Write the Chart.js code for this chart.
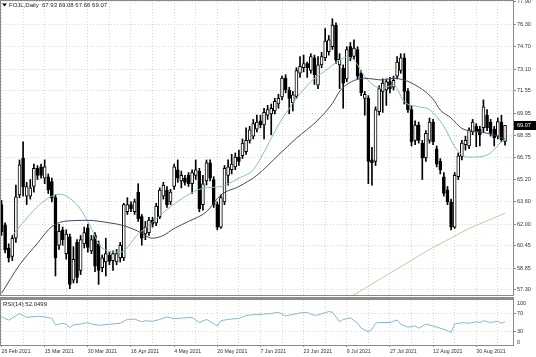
<!DOCTYPE html>
<html><head><meta charset="utf-8">
<script src="https://cdn.jsdelivr.net/npm/chart.js@4.4.0/dist/chart.umd.min.js"></script>
<style>
html,body{margin:0;padding:0;background:#fff;width:536px;height:357px;overflow:hidden}
#main{position:absolute;left:0;top:0}
#rsi{position:absolute;left:0;top:300px}
#sep{position:absolute;left:0;top:297px;width:514px;height:3px;background:#8c8c8c}
</style></head><body>
<canvas id="main" width="536" height="297"></canvas>
<div id="sep"></div>
<canvas id="rsi" width="536" height="57"></canvas>
<script>
const symbol = 'FOJL,Daily';
const opens = [63.4,61.95,60.3,59.7,61.0,64.1,66.72,64.0,64.0,64.7, 66.0,66.1,65.3,65.4,65.05,63.9,60.5,61.6,59.9,61.1, 58.0,60.7,58.7,60.6,61.75,60.1,61.2,60.6,58.9,59.3, 59.8,59.4,59.3,59.6,59.6,62.9,63.4,62.9,64.3,62.55, 61.3,61.4,62.3,62.1,62.55,64.0,64.45,63.6,64.7,65.9, 65.1,65.3,65.5,64.9,65.5,65.8,63.4,65.1,66.4,65.2, 63.4,61.8,63.6,65.5,65.9,66.1,66.8,66.9,67.2,68.0, 68.3,68.8,69.4,69.1,69.8,69.9,70.1,70.6,71.1,72.45, 71.6,70.7,71.15,72.8,73.2,73.5,73.0,73.9,71.95,73.4, 73.9,74.35,74.7,76.25,73.4,73.15,72.4,74.7,74.0,74.5, 72.8,71.0,71.0,66.6,66.5,70.05,71.5,71.6,72.2,71.8, 72.6,73.0,73.9,71.5,70.2,68.0,69.1,67.8,66.75,68.0, 69.3,67.4,66.5,65.4,64.45,63.6,61.8,65.4,66.85,67.7, 67.6,68.6,69.0,68.8,68.9,69.8,69.3,68.8,68.3,69.3, 67.93];
const highs = [63.7,62.1,60.6,61.2,64.8,66.6,67.9,65.0,65.2,66.3, 66.2,66.3,66.6,65.6,65.3,64.1,62.0,61.8,61.6,61.3, 60.4,60.9,61.2,61.8,62.0,61.2,61.4,60.8,59.8,61.0, 60.0,60.1,60.2,60.7,63.5,63.9,63.6,63.8,64.9,62.7, 62.2,62.5,62.5,63.5,64.6,65.0,64.7,64.5,66.3,66.6, 65.8,65.5,65.7,65.9,66.6,66.0,65.5,66.6,66.6,65.4, 63.6,64.1,66.2,66.6,67.0,67.1,67.3,68.1,68.9,69.0, 69.5,69.8,69.8,70.3,70.5,70.6,71.0,71.3,72.6,72.7, 71.8,71.5,73.2,74.0,74.1,73.6,74.2,74.1,74.0,74.3, 76.0,75.5,76.7,76.4,74.2,73.4,74.7,75.0,75.2,74.7, 73.0,71.5,71.2,67.5,70.4,71.9,72.4,72.4,72.5,72.6, 74.0,74.2,74.2,71.7,70.5,69.4,69.3,68.0,68.7,69.6, 69.5,67.6,66.7,65.7,64.7,63.8,65.7,67.1,68.0,68.3, 68.9,69.5,69.2,69.0,70.9,70.2,69.5,69.0,69.6,69.8, 69.08];
const lows = [61.2,59.95,59.3,59.4,60.7,63.9,64.0,63.4,63.8,64.3, 65.2,65.3,64.9,64.2,63.6,58.3,60.2,60.5,59.5,57.4, 57.8,57.8,58.4,60.3,60.0,59.9,58.6,57.7,58.6,58.3, 59.1,58.7,59.1,59.3,59.4,62.7,62.9,62.7,62.2,60.5, 60.9,61.2,61.8,61.9,62.4,63.8,63.2,63.4,64.5,65.0, 64.6,64.8,64.7,64.2,65.2,62.9,63.0,64.8,65.1,63.2, 61.6,61.7,63.4,64.8,65.6,65.9,66.2,66.7,67.0,67.8, 68.1,68.6,68.9,68.1,69.5,68.4,69.9,70.3,70.9,71.4, 69.9,70.1,71.0,72.5,72.9,72.5,72.8,72.0,71.7,73.2, 73.7,74.1,74.5,73.5,71.7,70.3,72.2,73.7,73.8,72.4, 71.2,69.8,64.9,64.8,66.2,69.8,70.0,70.5,71.4,71.6, 72.4,72.8,70.6,70.0,67.6,67.7,67.8,65.2,66.5,67.8, 67.7,66.1,65.6,64.0,63.4,61.6,61.7,65.2,66.6,67.3, 67.4,68.4,67.55,67.6,68.6,68.7,68.3,67.6,68.1,67.9, 67.66];
const closes = [61.45,60.16,59.6,61.0,63.97,66.25,64.69,64.7,64.6,66.0, 65.5,65.5,66.1,64.45,63.86,59.6,61.5,60.9,61.3,57.7, 59.5,58.2,60.9,61.4,60.35,60.9,59.0,58.7,59.6,59.9, 59.35,59.9,59.9,60.5,63.4,63.4,63.1,63.6,62.4,61.0, 61.8,62.3,62.0,63.3,64.45,64.8,63.4,64.3,66.1,65.3, 65.5,65.0,64.9,65.7,65.9,63.1,64.9,66.4,65.3,63.4, 61.8,63.9,66.0,66.1,66.3,66.8,66.5,67.8,68.0,68.75, 69.2,69.3,69.1,70.0,70.2,70.3,70.8,71.0,72.45,71.6, 71.0,71.25,73.0,73.3,73.5,73.2,74.0,72.7,73.4,74.0, 75.1,75.2,76.25,73.75,73.8,72.1,74.5,73.9,74.6,72.6, 71.4,71.3,66.5,66.4,70.2,71.7,72.1,72.2,71.7,72.3, 73.6,73.9,71.5,70.2,67.9,69.1,68.0,66.75,68.5,69.3, 67.9,66.3,65.9,64.2,63.6,61.8,65.5,66.9,67.8,68.0, 68.75,69.3,68.6,68.4,70.4,68.9,68.5,68.2,69.35,68.05, 69.07];

const priceTicks = [77.90,76.30,74.70,73.10,71.55,69.95,68.35,66.75,65.20,63.60,62.00,60.45,58.85,57.30];
const dateLabels = ['26 Feb 2021','15 Mar 2021','30 Mar 2021','16 Apr 2021','4 May 2021','20 May 2021','7 Jun 2021','23 Jun 2021','9 Jul 2021','27 Jul 2021','12 Aug 2021','30 Aug 2021'];

const fastMaBars = [3,9,12,16,21,24,28,33,38,42,47,56,61,66,70,72,77,82,86,91,94,96,98,101,104,106,109,112,116,119,123,126,128,130,133,136,139,140];
const fastMaValues = [61.2,63.0,63.7,64.15,63.4,62.2,60.3,60.0,61.3,62.15,63.26,64.57,64.7,65.3,65.9,66.7,69.1,71.0,72.2,73.16,73.75,73.95,73.75,72.56,71.85,71.73,71.96,70.77,70.4,70.2,69.0,67.55,66.96,66.8,66.83,67.1,67.9,68.0];
const slowMaBars = [0,5,10,13,15,18,24,30,34,38,42,45,48,52,57,61,66,71,77,82,88,92,94,96,101,106,109,114,120,122,125,128,133,137,140];
const slowMaValues = [57.06,59.09,60.64,61.6,62.0,62.23,62.28,62.1,61.9,61.5,61.0,61.2,61.7,62.2,62.9,64.1,64.7,65.5,66.95,68.15,69.46,70.65,71.5,72.0,72.44,72.32,72.44,72.1,70.95,70.17,69.6,68.86,68.6,68.39,68.08];
const longMaBars = [97,119,130,140];
const longMaValues = [56.8,60.2,61.7,62.79];

const rsiBars = [0,2,5,7,10,13,14,15,17,18,19,20,22,24,25,27,30,33,35,37,39,40,42,44,46,48,50,53,55,57,60,61,63,66,68,71,75,77,79,81,83,85,87,88,91,92,94,95,96,97,99,100,102,103,104,105,108,110,111,113,115,116,118,120,122,124,125,126,128,130,132,133,134,136,138,139,140];
const rsiValues = [62.6,55.4,70,61.3,64.1,61.3,59.1,44.6,48.3,46.1,38.7,44.6,46.7,49.6,46.7,43.9,46.1,48.3,57,57.6,51.7,53.9,52.6,57,62.6,58.3,59.8,61.3,49.6,57,42.4,53.9,57,59.1,65.7,67.8,70,72.8,64.8,67.8,71.3,72.2,65.7,67,74.3,72.8,51.7,57,58.3,60.4,48.3,37.4,29.3,35.2,48.3,50,50,55.4,46.1,39.6,42.4,37.4,46.1,42.4,37.4,32.2,27.8,46.7,49.6,48.3,51.7,50,53.9,50,52.6,48.3,52.05];
const rsiLast = 52.0499;
const rsiLevels = [30, 70];
const rsiTickLabels = [100, 70, 30, 0];

const X_MIN = -0.42, X_MAX = 142.22;
const GRID = '#d6d6d6', AXIS = '#8a8a8a', TXT = '#333';
const FONT = 'Liberation Sans';

function xScale(showLabels) {
  return {
    type: 'linear', min: X_MIN, max: X_MAX, offset: false,
    afterBuildTicks: s => { const t = []; for (let v = 0; v <= X_MAX; v += 6) t.push({value: v}); s.ticks = t; },
    grid: { offset: false, color: GRID, lineWidth: 1, drawTicks: showLabels, tickLength: 2,
            tickColor: c => (c.tick && c.tick.value % 12 === 0) ? AXIS : 'rgba(0,0,0,0)' },
    border: { display: true, color: AXIS, dash: [1, 2] },
    ticks: { display: showLabels, autoSkip: false, maxRotation: 0, minRotation: 0, align: 'start', padding: 1,
             color: TXT, font: { family: FONT, size: 5.2 },
             callback: v => (v % 12 === 0 && dateLabels[v / 12]) ? dateLabels[v / 12] : '' },
    afterFit: s => { s.height = showLabels ? 12 : 0; s.paddingLeft = 0; s.paddingRight = 0; }
  };
}

const frame = (chart) => {
  const a = chart.chartArea, ctx = chart.ctx;
  ctx.save(); ctx.strokeStyle = AXIS; ctx.lineWidth = 1;
  ctx.beginPath(); ctx.moveTo(0.5, a.top); ctx.lineTo(0.5, a.bottom); ctx.stroke();
  ctx.restore();
};

const mainDecor = {
  id: 'mainDecor',
  afterDraw(chart) {
    frame(chart);
    const ctx = chart.ctx, ys = chart.scales.y, last = closes.length - 1;
    ctx.save();
    ctx.strokeStyle = AXIS; ctx.beginPath(); ctx.moveTo(0, 0.5); ctx.lineTo(chart.chartArea.right, 0.5); ctx.stroke();
    ctx.fillStyle = '#000';
    ctx.beginPath(); ctx.moveTo(2, 3.5); ctx.lineTo(7, 3.5); ctx.lineTo(4.5, 6.5); ctx.closePath(); ctx.fill();
    ctx.font = '6px "' + FONT + '"'; ctx.textBaseline = 'middle'; ctx.fillStyle = '#222'; ctx.textAlign = 'left';
    ctx.fillText(symbol + '  ' + [opens[last], highs[last], lows[last], closes[last]].map(v => v.toFixed(2)).join(' '), 9, 5.5);
    const py = ys.getPixelForValue(closes[last]);
    ctx.fillStyle = '#000'; ctx.fillRect(514, Math.round(py) - 4, 22, 9);
    ctx.fillStyle = '#fff'; ctx.font = '5.5px "' + FONT + '"';
    ctx.fillText(closes[last].toFixed(2), 517, Math.round(py) + 0.5);
    ctx.restore();
  }
};

const rsiDecor = {
  id: 'rsiDecor',
  afterDraw(chart) {
    frame(chart);
    const ctx = chart.ctx, ys = chart.scales.y, a = chart.chartArea;
    ctx.save();
    ctx.font = '6px "' + FONT + '"'; ctx.fillStyle = '#222'; ctx.textBaseline = 'middle'; ctx.textAlign = 'left';
    ctx.fillText('RSI(14) ' + rsiLast.toFixed(4), 3, 4);
    ctx.font = '5.5px "' + FONT + '"'; ctx.fillStyle = TXT;
    rsiTickLabels.forEach(v => {
      let y = ys.getPixelForValue(v);
      y = Math.min(Math.max(y, a.top + 3), a.bottom - 2.5);
      ctx.fillText(String(v), 517, y);
    });
    ctx.restore();
  }
};

const common = {
  responsive: false, maintainAspectRatio: false, animation: false, events: [],
  plugins: { legend: { display: false }, tooltip: { enabled: false } }
};

new Chart(document.getElementById('main'), {
  type: 'bar',
  data: {
    datasets: [
      { type: 'line', data: longMaBars.map((b, i) => ({x: b, y: longMaValues[i]})), borderColor: '#d6c29e', borderWidth: 1, pointRadius: 0, tension: 0, order: 1 },
      { type: 'line', data: slowMaBars.map((b, i) => ({x: b, y: slowMaValues[i]})), borderColor: '#45466b', borderWidth: 1, pointRadius: 0, cubicInterpolationMode: 'monotone', order: 1 },
      { type: 'line', data: fastMaBars.map((b, i) => ({x: b, y: fastMaValues[i]})), borderColor: '#82c3b0', borderWidth: 1, pointRadius: 0, cubicInterpolationMode: 'monotone', order: 1 },
      { type: 'bar', data: opens.map((o, i) => ({x: i, y: [o, closes[i]]})),
        backgroundColor: opens.map((o, i) => closes[i] >= o ? '#ffffff' : '#000000'),
        borderColor: '#000', borderWidth: 1, borderSkipped: false, barThickness: 3, minBarLength: 1, grouped: false, order: 2 },
      { type: 'bar', data: highs.map((h, i) => ({x: i, y: [lows[i], h]})),
        backgroundColor: '#000', borderWidth: 0, barThickness: 1, grouped: false, order: 3 }
    ]
  },
  options: Object.assign({}, common, {
    layout: { padding: { left: 0, right: 0, top: 0, bottom: 2 } },
    scales: {
      x: xScale(false),
      y: {
        position: 'right', min: 56.94, max: 78.04,
        afterBuildTicks: s => { s.ticks = priceTicks.map(v => ({value: v})); },
        grid: { color: GRID, drawTicks: true, tickLength: 3, tickColor: AXIS },
        border: { display: true, color: AXIS, dash: [1, 2] },
        ticks: { padding: 1, color: TXT, font: { family: FONT, size: 5.5 }, callback: v => Number(v).toFixed(2) },
        afterFit: s => { s.width = 23; s.paddingTop = 0; s.paddingBottom = 0; }
      }
    }
  }),
  plugins: [mainDecor]
});

new Chart(document.getElementById('rsi'), {
  type: 'line',
  data: {
    datasets: [
      { data: rsiBars.map((b, i) => ({x: b, y: rsiValues[i]})), borderColor: '#86b8d6', borderWidth: 1, pointRadius: 0, tension: 0 }
    ]
  },
  options: Object.assign({}, common, {
    layout: { padding: 0 },
    scales: {
      x: xScale(true),
      y: {
        position: 'right', min: 0, max: 100,
        afterBuildTicks: s => { s.ticks = rsiLevels.map(v => ({value: v})); },
        grid: { color: GRID, drawTicks: true, tickLength: 3, tickColor: AXIS },
        border: { display: true, color: AXIS, dash: [1, 2] },
        ticks: { display: false },
        afterFit: s => { s.width = 23; s.paddingTop = 0; s.paddingBottom = 0; }
      }
    }
  }),
  plugins: [rsiDecor]
});
</script>
</body></html>
